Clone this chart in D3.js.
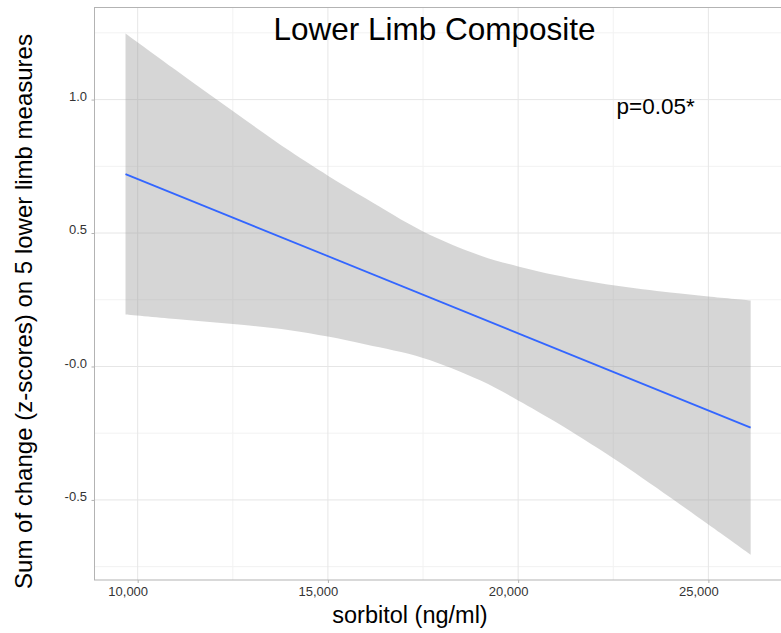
<!DOCTYPE html>
<html>
<head>
<meta charset="utf-8">
<script src="https://cdn.jsdelivr.net/npm/d3@7"></script>
<style>
  body { margin: 0; background: #fff; }
  svg { display: block; font-family: "Liberation Sans", Arial, Helvetica, sans-serif; }
</style>
</head>
<body>
<div id="chart"></div>
<script>
// Data
const sorbitol = [9680, 11000, 12500, 14000, 15000, 16000, 17500, 19000, 20000, 21000, 22500, 24000, 25000, 26111];
const upperCI = [1.248, 1.111, 0.957, 0.807, 0.715, 0.629, 0.506, 0.416, 0.375, 0.342, 0.304, 0.277, 0.262, 0.247];
const lowerCI = [0.195, 0.178, 0.159, 0.136, 0.112, 0.082, 0.032, -0.052, -0.127, -0.209, -0.344, -0.491, -0.592, -0.705];

// fitted line (two ends)
const fitX = [9680, 26111];
const fitY = [0.721, -0.229];

// ticks
const xTicks = [10000, 15000, 20000, 25000];
const xTickLabels = ["10,000", "15,000", "20,000", "25,000"];
const xMinor = [12500, 17500, 22500];
const yTicks = [1.0, 0.5, 0.0, -0.5];
const yTickLabels = ["1.0", "0.5", "-0.0", "-0.5"];
const yMinor = [1.25, 0.75, 0.25, -0.25, -0.75];

// Define the dimensions and margins for the SVG
let width = 781, height = 633;

let margin = {
    top: 7.5,
    bottom: 53,
    left: 94.5,
    right: -1
}

let svg = d3.select('#chart')
    .append('svg')
    .attr('width', width)
    .attr('height', height)

// Scales
const xScale = d3.scaleLinear()
    .domain([8865, 26935])
    .range([margin.left, width - margin.right]);

const yScale = d3.scaleLinear()
    .domain([-0.8, 1.345])
    .range([height - margin.bottom, margin.top]);

const x0 = margin.left, x1 = width - margin.right;
const y0 = margin.top, y1 = height - margin.bottom;

// Minor grid
svg.append('g')
    .selectAll('line')
    .data(xMinor)
    .enter()
    .append('line')
    .attr('x1', d => xScale(d))
    .attr('x2', d => xScale(d))
    .attr('y1', y0)
    .attr('y2', y1)
    .attr('stroke', '#f2f2f2')
    .attr('stroke-width', 1);

svg.append('g')
    .selectAll('line')
    .data(yMinor)
    .enter()
    .append('line')
    .attr('x1', x0)
    .attr('x2', x1)
    .attr('y1', d => yScale(d))
    .attr('y2', d => yScale(d))
    .attr('stroke', '#f2f2f2')
    .attr('stroke-width', 1);

// Major grid
svg.append('g')
    .selectAll('line')
    .data(xTicks)
    .enter()
    .append('line')
    .attr('x1', d => xScale(d))
    .attr('x2', d => xScale(d))
    .attr('y1', y0)
    .attr('y2', y1)
    .attr('stroke', '#e6e6e6')
    .attr('stroke-width', 1);

svg.append('g')
    .selectAll('line')
    .data(yTicks)
    .enter()
    .append('line')
    .attr('x1', x0)
    .attr('x2', x1)
    .attr('y1', d => yScale(d))
    .attr('y2', d => yScale(d))
    .attr('stroke', '#e6e6e6')
    .attr('stroke-width', 1);

// Confidence band
const bandData = sorbitol.map((s, i) => ({ s: s, lo: lowerCI[i], hi: upperCI[i] }));

let area = d3.area()
    .x(d => xScale(d.s))
    .y0(d => yScale(d.lo))
    .y1(d => yScale(d.hi))
    .curve(d3.curveCatmullRom.alpha(0.5));

svg.append('path')
    .datum(bandData)
    .attr('d', area)
    .attr('fill', '#999999')
    .attr('fill-opacity', 0.4);

// Fitted line
let line = d3.line()
    .x(d => xScale(d[0]))
    .y(d => yScale(d[1]));

svg.append('path')
    .datum(fitX.map((d, i) => [d, fitY[i]]))
    .attr('d', line)
    .attr('fill', 'none')
    .attr('stroke', '#3366FF')
    .attr('stroke-width', 1.8);

// Panel border
svg.append('rect')
    .attr('x', x0)
    .attr('y', y0)
    .attr('width', x1 - x0)
    .attr('height', y1 - y0)
    .attr('fill', 'none')
    .attr('stroke', '#b3b3b3')
    .attr('stroke-width', 1);

// Axes
let xaxis = svg.append('g')
    .attr('transform', `translate(0,${y1})`)
    .call(d3.axisBottom(xScale).tickValues(xTicks).tickFormat((d, i) => xTickLabels[i]).tickSize(3).tickSizeOuter(0));
xaxis.select('.domain').remove();
xaxis.selectAll('line').attr('stroke', '#b3b3b3');
xaxis.selectAll('text')
    .attr('fill', '#333')
    .attr('dx', -10)
    .attr('y', 7)
    .style('font-size', '13px')
    .style('font-family', '"Liberation Sans", Arial, sans-serif');

let yaxis = svg.append('g')
    .attr('transform', `translate(${x0},0)`)
    .call(d3.axisLeft(yScale).tickValues(yTicks).tickFormat((d, i) => yTickLabels[i]).tickSize(3).tickSizeOuter(0));
yaxis.select('.domain').remove();
yaxis.selectAll('line').attr('stroke', '#b3b3b3');
yaxis.selectAll('text')
    .attr('fill', '#333')
    .attr('x', -7.5)
    .attr('dy', '0.05em')
    .style('font-size', '13px')
    .style('font-family', '"Liberation Sans", Arial, sans-serif');

// Title and annotation
svg.append('text')
    .attr('x', 434.5)
    .attr('y', 40)
    .attr('text-anchor', 'middle')
    .style('font-size', '31.5px')
    .attr('fill', '#000')
    .text('Lower Limb Composite');

svg.append('text')
    .attr('x', 616.5)
    .attr('y', 113.5)
    .style('font-size', '22.5px')
    .attr('fill', '#000')
    .text('p=0.05*');

// Axis labels
svg.append('text')
    .attr('x', 410)
    .attr('y', 623)
    .attr('text-anchor', 'middle')
    .style('font-size', '23.5px')
    .attr('fill', '#000')
    .text('sorbitol (ng/ml)');

svg.append('text')
    .attr('transform', 'translate(31.5,311.5) rotate(-90)')
    .attr('text-anchor', 'middle')
    .style('font-size', '24px')
    .attr('fill', '#000')
    .text('Sum of change (z-scores) on 5 lower limb measures');
</script>
</body>
</html>
